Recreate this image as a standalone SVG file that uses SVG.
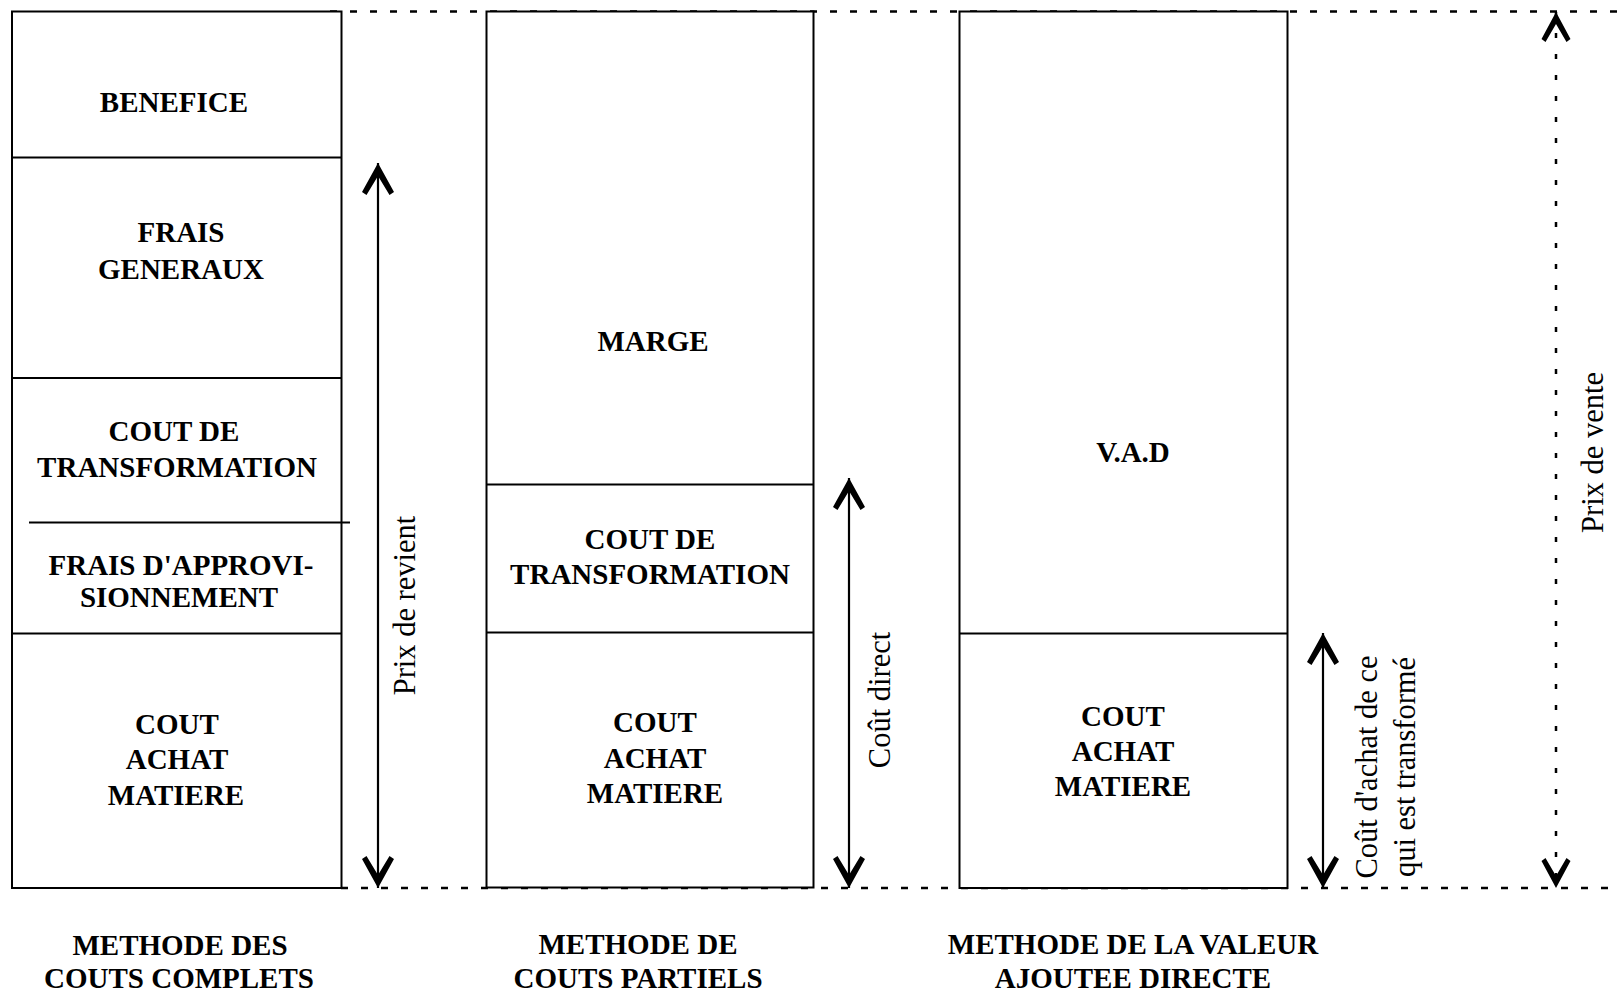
<svg xmlns="http://www.w3.org/2000/svg" width="1623" height="995" viewBox="0 0 1623 995">
<style>
.box{fill:#fff;stroke:#000;stroke-width:2}
.div{stroke:#000;stroke-width:2;fill:none}
.t{font-family:"Liberation Serif","Times New Roman",serif;font-weight:bold;font-size:29px;text-anchor:middle;fill:#000}
.lab{font-family:"Liberation Serif","Times New Roman",serif;font-size:30.5px;fill:#000}
.dash{stroke:#000;stroke-width:2.5;stroke-dasharray:7 13;fill:none}
.arr{stroke:#000;stroke-width:2.2;fill:none;marker-start:url(#ah);marker-end:url(#ah)}
.darr{stroke:#000;stroke-width:2.5;stroke-dasharray:5 16;fill:none;marker-start:url(#ah2);marker-end:url(#ah2)}
</style>
<defs>
<marker id="ah" viewBox="-34 -18 36 36" refX="0" refY="0" markerWidth="36" markerHeight="36" markerUnits="userSpaceOnUse" orient="auto-start-reverse">
<path d="M0,0 L-29,-16 L-32,-11.5 L-13,0 L-32,11.5 L-29,16 Z" fill="#000"/>
</marker>
<marker id="ah2" viewBox="-32 -16 34 32" refX="0" refY="0" markerWidth="34" markerHeight="32" markerUnits="userSpaceOnUse" orient="auto-start-reverse">
<path d="M0,0 L-27,-14.5 L-30,-10.5 L-12,0 L-30,10.5 L-27,14.5 Z" fill="#000"/>
</marker>
</defs>
<rect width="1623" height="995" fill="#fff"/>

<g id="connectors">
<line class="dash" x1="330" y1="11.5" x2="1620" y2="11.5"/>
<line class="dash" x1="341" y1="888" x2="1620" y2="888"/>
<line class="arr" x1="378" y1="163" x2="378" y2="888"/>
<line class="arr" x1="849" y1="478" x2="849" y2="888"/>
<line class="arr" x1="1323" y1="633" x2="1323" y2="888"/>
<line class="darr" x1="1556" y1="12" x2="1556" y2="888"/>
</g>

<g id="col-complets">
<rect class="box" x="12" y="11.5" width="329.5" height="876.5"/>
<line class="div" x1="12" y1="157.5" x2="341.5" y2="157.5"/>
<line class="div" x1="12" y1="378" x2="341.5" y2="378"/>
<line class="div" x1="29" y1="522.5" x2="350" y2="522.5"/>
<line class="div" x1="12" y1="633.5" x2="341.5" y2="633.5"/>
</g>
<g id="benefice"><text class="t" x="174" y="112">BENEFICE</text></g>
<g id="frais-generaux"><text class="t" x="181" y="242">FRAIS</text><text class="t" x="181" y="279">GENERAUX</text></g>
<g id="cout-transfo-1"><text class="t" x="174" y="441">COUT DE</text><text class="t" x="177" y="477">TRANSFORMATION</text></g>
<g id="frais-appro"><text class="t" x="181" y="575">FRAIS D'APPROVI-</text><text class="t" x="179" y="607">SIONNEMENT</text></g>
<g id="cout-achat-1"><text class="t" x="177" y="734">COUT</text><text class="t" x="177" y="769">ACHAT</text><text class="t" x="176" y="805">MATIERE</text></g>
<g id="caption-1"><text class="t" x="180" y="955">METHODE DES</text><text class="t" x="179" y="988">COUTS COMPLETS</text></g>
<g id="prix-revient"><text class="lab" transform="translate(415 605.5) rotate(-90)" text-anchor="middle">Prix de revient</text></g>

<g id="col-partiels">
<rect class="box" x="486.5" y="11.5" width="327" height="876"/>
<line class="div" x1="486.5" y1="484.5" x2="813.5" y2="484.5"/>
<line class="div" x1="486.5" y1="632.5" x2="813.5" y2="632.5"/>
</g>
<g id="marge"><text class="t" x="653" y="351">MARGE</text></g>
<g id="cout-transfo-2"><text class="t" x="650" y="549">COUT DE</text><text class="t" x="650" y="584">TRANSFORMATION</text></g>
<g id="cout-achat-2"><text class="t" x="655" y="732">COUT</text><text class="t" x="655" y="768">ACHAT</text><text class="t" x="655" y="803">MATIERE</text></g>
<g id="caption-2"><text class="t" x="638" y="954">METHODE DE</text><text class="t" x="638" y="988">COUTS PARTIELS</text></g>
<g id="cout-direct"><text class="lab" transform="translate(890 700) rotate(-90)" text-anchor="middle">Coût direct</text></g>

<g id="col-vad">
<rect class="box" x="959.5" y="11.5" width="328" height="876.5"/>
<line class="div" x1="959.5" y1="633.5" x2="1287.5" y2="633.5"/>
</g>
<g id="vad"><text class="t" x="1133" y="462">V.A.D</text></g>
<g id="cout-achat-3"><text class="t" x="1123" y="726">COUT</text><text class="t" x="1123" y="761">ACHAT</text><text class="t" x="1123" y="796">MATIERE</text></g>
<g id="caption-3"><text class="t" x="1133" y="954">METHODE DE LA VALEUR</text><text class="t" x="1133" y="988">AJOUTEE DIRECTE</text></g>
<g id="cout-achat-label"><text class="lab" transform="translate(1377 767) rotate(-90)" text-anchor="middle">Coût d'achat de ce</text><text class="lab" transform="translate(1415 767) rotate(-90)" text-anchor="middle">qui est transformé</text></g>
<g id="prix-vente"><text class="lab" transform="translate(1603 452.5) rotate(-90)" text-anchor="middle">Prix de vente</text></g>
</svg>
